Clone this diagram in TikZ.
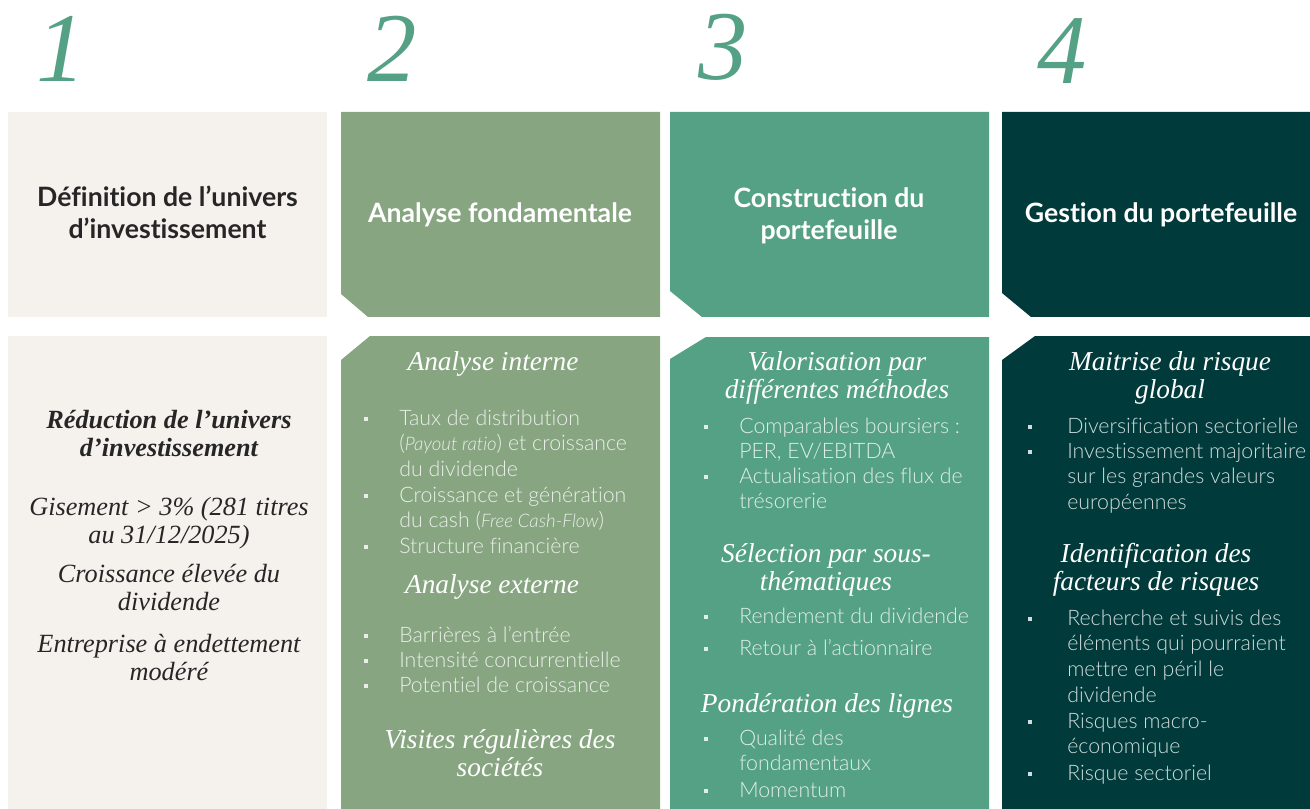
\documentclass[tikz,border=0pt]{standalone}
\usepackage{fontspec}
\newfontfamily\hdfont{Lato}[Ligatures=NoCommon]
\newfontfamily\bodyfont{Lato Light}[Ligatures=NoCommon]
\newfontfamily\serifit{Liberation Serif}
\definecolor{cbeige}{HTML}{F5F1EC}
\definecolor{csage}{HTML}{87A581}
\definecolor{cteal}{HTML}{55A185}
\definecolor{cdark}{HTML}{003A3A}
\definecolor{cink}{HTML}{262626}
\newcommand\ml[2]{\begin{tabular}[t]{@{}#1@{}}#2\end{tabular}}
\tikzset{
  num/.style={font=\serifit\itshape\fontsize{74}{74}\selectfont, text=cteal, anchor=base, inner sep=0pt},
  tophd/.style={font=\hdfont\bfseries\fontsize{20}{24}\selectfont, anchor=base, inner sep=0pt},
  subhd/.style={font=\serifit\itshape\fontsize{20.5}{21}\selectfont, text=white, anchor=base, inner sep=0pt},
  colone/.style={font=\serifit\itshape\fontsize{19.7}{21}\selectfont, text=cink, anchor=base, inner sep=0pt},
  body/.style={font=\bodyfont\fontsize{16}{19.3}\selectfont, anchor=base west, inner sep=0pt},
}
\newcommand\bitem[5]{%
  \fill[bulc] ({#2-2.2},{#4-8.4}) rectangle ({#2+2.2},{#4-4});
  \node[body, text=bulc] (#1) at (#3,#4) {\ml{l}{#5}};
}
\newcommand\pit[1]{{\itshape\fontsize{14}{19.3}\selectfont #1}}
\begin{document}
\begin{tikzpicture}[x=0.75pt,y=-0.75pt]
\useasboundingbox (0,0) rectangle (1310,809);
% numbers
\node[num] (n1) at (61,82) {1};
\node[num] (n2) at (392,82) {2};
\node[num] (n3) at (723,80) {3};
\node[num] (n4) at (1062,84) {4};
% boxes
\fill[cbeige] (8,112) rectangle (327,317);
\fill[cbeige] (8,336) rectangle (327,809);
\fill[csage] (341,112) -- (660,112) -- (660,317) -- (368,317) -- (341,294) -- cycle;
\fill[csage] (370,336) -- (660,336) -- (660,809) -- (341,809) -- (341,360) -- cycle;
\fill[cteal] (670,112) -- (989,112) -- (989,317) -- (702,317) -- (670,291) -- cycle;
\fill[cteal] (706,337) -- (989,337) -- (989,809) -- (670,809) -- (670,359) -- cycle;
\fill[cdark] (1002,112) -- (1310,112) -- (1310,317) -- (1031,317) -- (1002,293) -- cycle;
\fill[cdark] (1035,336) -- (1310,336) -- (1310,809) -- (1002,809) -- (1002,360) -- cycle;
% top headers
\node[tophd, text=cink] (t1) at (167.5,207) {\ml{c}{Définition de l’univers\\d’investissement}};
\node[tophd, text=white] (t2) at (500,223) {Analyse fondamentale};
\node[tophd, text=white] (t3) at (829,208) {\ml{c}{Construction du\\portefeuille}};
\node[tophd, text=white] (t4) at (1161,223) {Gestion du portefeuille};
% column 1
\node[colone, font=\serifit\bfseries\itshape\fontsize{19.7}{21}\selectfont] (c1a) at (169,428) {\ml{c}{Réduction de l’univers\\d’investissement}};
\node[colone] (c1b) at (169,515) {\ml{c}{Gisement > 3\% (281 titres\\au 31/12/2025)}};
\node[colone] (c1c) at (169,582) {\ml{c}{Croissance élevée du\\dividende}};
\node[colone] (c1d) at (169,652) {\ml{c}{Entreprise à endettement\\modéré}};
% column 2
\begin{scope}
\colorlet{bulc}{white!82!csage}
\node[subhd] (c2a) at (493,370) {Analyse interne};
\bitem{c2i1}{366}{399}{425}{Taux de distribution\\(\pit{Payout ratio}) et croissance\\du dividende}
\bitem{c2i2}{366}{399}{502}{Croissance et génération\\du cash (\pit{Free Cash-Flow})}
\bitem{c2i3}{366}{399}{553}{Structure financière}
\node[subhd] (c2b) at (492,593) {Analyse externe};
\bitem{c2i4}{366}{399}{642}{Barrières à l’entrée}
\bitem{c2i5}{366}{399}{667}{Intensité concurrentielle}
\bitem{c2i6}{366}{399}{692}{Potentiel de croissance}
\node[subhd, font=\serifit\itshape\fontsize{20.5}{21.5}\selectfont] (c2c) at (500,748) {\ml{c}{Visites régulières des\\sociétés}};
\end{scope}
% column 3
\begin{scope}
\colorlet{bulc}{white!82!cteal}
\node[subhd] (c3a) at (837,370) {\ml{c}{Valorisation par\\différentes méthodes}};
\bitem{c3i1}{706}{739}{433}{Comparables boursiers :\\PER, EV/EBITDA}
\bitem{c3i2}{706}{739}{483}{Actualisation des flux de\\trésorerie}
\node[subhd] (c3b) at (826,562) {\ml{c}{Sélection par sous-\\thématiques}};
\bitem{c3i3}{706}{739}{623}{Rendement du dividende}
\bitem{c3i4}{706}{739}{655}{Retour à l’actionnaire}
\node[subhd] (c3c) at (827,712) {Pondération des lignes};
\bitem{c3i5}{706}{739}{745}{Qualité des\\fondamentaux}
\bitem{c3i6}{706}{739}{797}{Momentum}
\end{scope}
% column 4
\begin{scope}
\colorlet{bulc}{white!82!cdark}
\node[subhd] (c4a) at (1170,370) {\ml{c}{Maitrise du risque\\global}};
\bitem{c4i1}{1030}{1067}{433}{Diversification sectorielle}
\bitem{c4i2}{1030}{1067}{458}{Investissement majoritaire\\sur les grandes valeurs\\européennes}
\node[subhd] (c4b) at (1156,562) {\ml{c}{Identification des\\facteurs de risques}};
\bitem{c4i3}{1030}{1067}{625}{Recherche et suivis des\\éléments qui pourraient\\mettre en péril le\\dividende}
\bitem{c4i4}{1030}{1067}{728}{Risques macro-\\économique}
\bitem{c4i5}{1030}{1067}{780}{Risque sectoriel}
\end{scope}
\end{tikzpicture}
\end{document}
